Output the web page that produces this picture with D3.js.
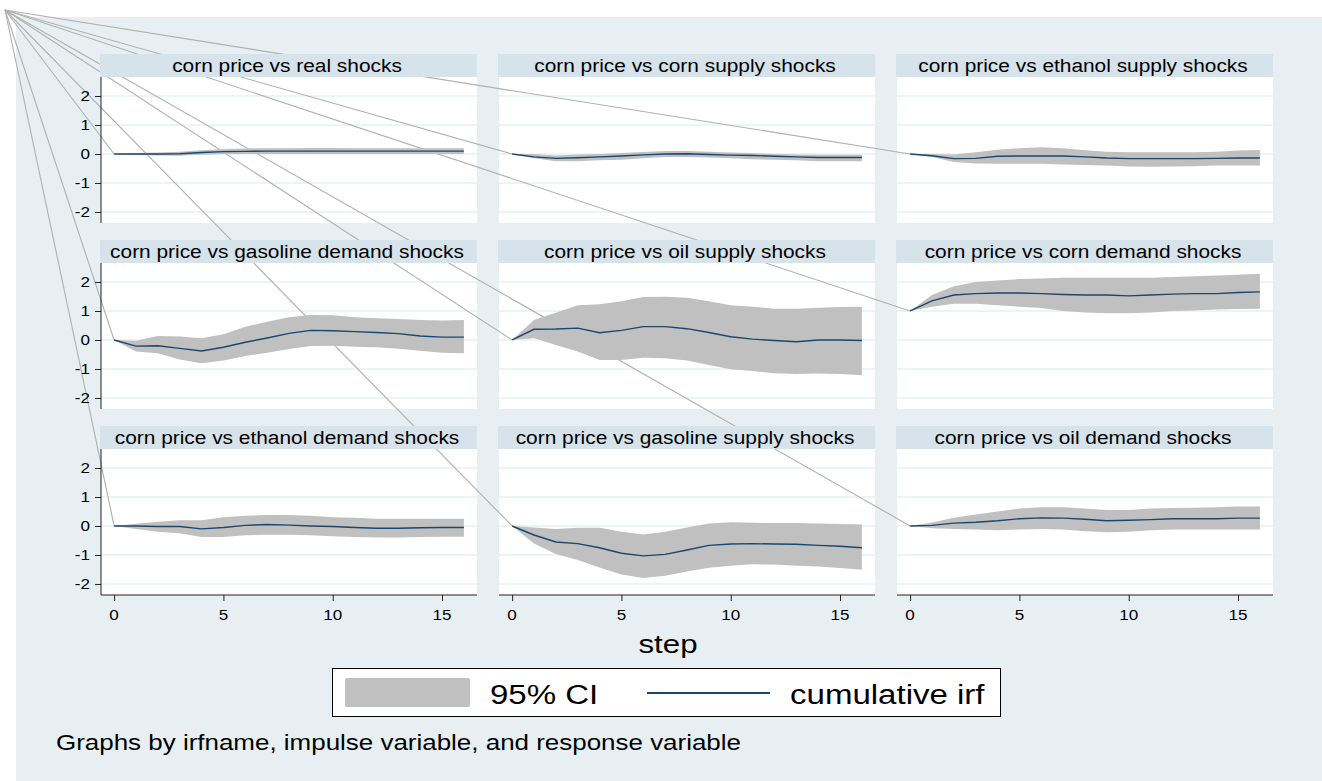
<!DOCTYPE html>
<html>
<head>
<meta charset="utf-8">
<script src="https://cdn.jsdelivr.net/npm/d3@7"></script>
<style>
  body { margin: 0; background: #fff; }
  svg { display: block; font-family: "Liberation Sans", Arial, Helvetica, sans-serif; }
</style>
</head>
<body>
<div id="chart"></div>
<script>
// steps of the impulse response
const steps = [0,1,2,3,4,5,6,7,8,9,10,11,12,13,14,15,16]

const titles = [
  "corn price vs real shocks",
  "corn price vs corn supply shocks",
  "corn price vs ethanol supply shocks",
  "corn price vs gasoline demand shocks",
  "corn price vs oil supply shocks",
  "corn price vs corn demand shocks",
  "corn price vs ethanol demand shocks",
  "corn price vs gasoline supply shocks",
  "corn price vs oil demand shocks"
]

// cumulative irf + 95% CI, one triple per panel
const irf_real = [0,0,0,0.01,0.05,0.08,0.09,0.1,0.1,0.1,0.1,0.1,0.1,0.1,0.1,0.1,0.1]
const lo_real  = [0,-0.03,-0.05,-0.06,-0.03,0,0,0,0,0,0,0,0,0,0,0,0]
const hi_real  = [0,0.03,0.05,0.08,0.13,0.17,0.19,0.2,0.2,0.21,0.21,0.2,0.2,0.2,0.2,0.2,0.2]

const irf_cornS = [0,-0.1,-0.15,-0.13,-0.1,-0.07,-0.03,0,0.01,-0.02,-0.04,-0.05,-0.08,-0.1,-0.12,-0.12,-0.12]
const lo_cornS  = [0,-0.15,-0.25,-0.25,-0.22,-0.2,-0.15,-0.1,-0.1,-0.12,-0.15,-0.18,-0.2,-0.22,-0.25,-0.25,-0.25]
const hi_cornS  = [0,0,-0.05,-0.02,0,0.03,0.07,0.1,0.1,0.08,0.05,0.03,0,-0.02,-0.03,-0.03,-0.03]

const irf_ethS = [0,-0.06,-0.16,-0.15,-0.08,-0.07,-0.07,-0.07,-0.1,-0.14,-0.16,-0.16,-0.16,-0.16,-0.15,-0.14,-0.14]
const lo_ethS  = [0,-0.1,-0.28,-0.33,-0.34,-0.34,-0.34,-0.36,-0.38,-0.4,-0.43,-0.44,-0.43,-0.42,-0.4,-0.4,-0.4]
const hi_ethS  = [0,0,-0.02,0.06,0.15,0.2,0.23,0.2,0.13,0.08,0.06,0.06,0.06,0.06,0.08,0.12,0.14]

const irf_gasD = [0,-0.21,-0.2,-0.29,-0.38,-0.25,-0.08,0.07,0.23,0.33,0.32,0.29,0.26,0.22,0.14,0.1,0.1]
const lo_gasD  = [0,-0.4,-0.46,-0.67,-0.8,-0.71,-0.55,-0.44,-0.31,-0.21,-0.2,-0.23,-0.25,-0.3,-0.37,-0.44,-0.46]
const hi_gasD  = [0,-0.03,0.14,0.12,0.06,0.2,0.46,0.63,0.78,0.86,0.85,0.78,0.75,0.72,0.69,0.67,0.69]

const irf_oilS = [0,0.37,0.38,0.41,0.25,0.33,0.46,0.46,0.39,0.26,0.11,0.03,-0.02,-0.06,0,0,-0.02]
const lo_oilS  = [0,0.06,-0.17,-0.4,-0.69,-0.69,-0.61,-0.63,-0.71,-0.86,-1.01,-1.07,-1.15,-1.17,-1.16,-1.17,-1.22]
const hi_oilS  = [0,0.69,0.94,1.2,1.23,1.34,1.48,1.49,1.46,1.34,1.2,1.15,1.08,1.08,1.11,1.14,1.15]

const irf_cornD = [1,1.35,1.55,1.6,1.62,1.62,1.6,1.57,1.55,1.55,1.52,1.55,1.58,1.6,1.6,1.64,1.66]
const lo_cornD  = [1,1.15,1.25,1.25,1.2,1.15,1.1,1.0,0.95,0.92,0.92,0.95,1.0,1.02,1.05,1.07,1.08]
const hi_cornD  = [1,1.55,1.85,2.0,2.05,2.1,2.12,2.15,2.15,2.15,2.15,2.15,2.17,2.2,2.22,2.25,2.28]

const irf_ethD = [0,0,-0.02,-0.02,-0.1,-0.05,0.02,0.05,0.03,0,-0.02,-0.05,-0.08,-0.08,-0.06,-0.05,-0.05]
const lo_ethD  = [0,-0.1,-0.2,-0.25,-0.38,-0.38,-0.32,-0.3,-0.3,-0.32,-0.35,-0.38,-0.4,-0.4,-0.38,-0.37,-0.37]
const hi_ethD  = [0,0.08,0.15,0.2,0.2,0.3,0.35,0.38,0.38,0.35,0.3,0.28,0.25,0.25,0.25,0.25,0.25]

const irf_gasS = [0,-0.31,-0.55,-0.61,-0.75,-0.94,-1.03,-0.98,-0.83,-0.67,-0.62,-0.61,-0.62,-0.63,-0.67,-0.7,-0.75]
const lo_gasS  = [0,-0.6,-0.97,-1.17,-1.43,-1.67,-1.79,-1.72,-1.57,-1.44,-1.37,-1.32,-1.33,-1.37,-1.4,-1.45,-1.51]
const hi_gasS  = [0,-0.05,-0.1,-0.06,-0.06,-0.2,-0.29,-0.2,-0.05,0.09,0.13,0.11,0.1,0.1,0.09,0.07,0.05]

const irf_oilD = [0,0.02,0.1,0.13,0.18,0.25,0.28,0.27,0.23,0.18,0.2,0.22,0.25,0.25,0.25,0.27,0.27]
const lo_oilD  = [0,-0.08,-0.1,-0.12,-0.15,-0.12,-0.1,-0.12,-0.18,-0.22,-0.2,-0.15,-0.12,-0.12,-0.12,-0.12,-0.12]
const hi_oilD  = [0,0.12,0.28,0.4,0.5,0.6,0.65,0.65,0.6,0.55,0.55,0.6,0.62,0.63,0.65,0.67,0.67]

const yTicks = [-2,-1,0,1,2]
const xTicks = [0,5,10,15]

const irfs = [irf_real, irf_cornS, irf_ethS, irf_gasD, irf_oilS, irf_cornD, irf_ethD, irf_gasS, irf_oilD]
const los  = [lo_real, lo_cornS, lo_ethS, lo_gasD, lo_oilS, lo_cornD, lo_ethD, lo_gasS, lo_oilD]
const his  = [hi_real, hi_cornS, hi_ethS, hi_gasD, hi_oilS, hi_cornD, hi_ethD, hi_gasS, hi_oilD]

const W = 1322, H = 781
const bg = "#e8eff2", strip = "#d7e3ea", grid = "#e9f1f3"
const ciColor = "#c0c0c0", navy = "#1a476f"

// panel geometry
const colX = [101, 499, 897]
const rowY = [54, 240, 426]   // top of title strip
const pw = 376, stripH = 23, ph = 146

const x = d3.scaleLinear().domain([-0.6, 16.6]).range([0, pw])
const y = d3.scaleLinear().domain([-2.38, 2.655]).range([ph, 0])

const svg = d3.select("#chart").append("svg")
  .attr("width", W)
  .attr("height", H)

// stretched text helper (original export is a bit wide)
function txt(g, tx, ty, s, size, sx, anchor) {
  return g.append("text")
    .attr("transform", "translate(" + tx + "," + ty + ") scale(" + sx + ",1)")
    .attr("text-anchor", anchor || "start")
    .attr("font-size", size)
    .attr("fill", "#000")
    .text(s)
}

svg.append("rect").attr("x", 16).attr("y", 17).attr("width", W - 16).attr("height", H - 17).attr("fill", bg)

const gPlot = svg.append("g")
const gOrigin = svg.append("g")
const gBand = svg.append("g")
const gLine = svg.append("g")
const gStrip = svg.append("g")
const gAxis = svg.append("g")

const area = d3.area().x((d, i) => x(steps[i])).y0(d => y(d[0])).y1(d => y(d[1]))
const line = d3.line().x((d, i) => x(steps[i])).y(d => y(d))

titles.forEach((t, k) => {
  const c = k % 3, r = Math.floor(k / 3)
  const ox = colX[c], oy = rowY[r] + stripH

  const p = gPlot.append("g").attr("transform", "translate(" + ox + "," + oy + ")")
  p.append("rect").attr("width", pw).attr("height", ph).attr("fill", "#fff")
  p.selectAll("line.grid").data(yTicks).enter().append("line")
    .attr("x1", 0).attr("x2", pw)
    .attr("y1", d => y(d)).attr("y2", d => y(d))
    .attr("stroke", grid).attr("stroke-width", 1.5)

  // stray connector from the page corner to the first point
  gOrigin.append("line")
    .attr("x1", 5).attr("y1", 10)
    .attr("x2", ox + x(steps[0])).attr("y2", oy + y(irfs[k][0]))
    .attr("stroke", "#b0b0b0").attr("stroke-width", 1.1)

  gBand.append("path")
    .attr("transform", "translate(" + ox + "," + oy + ")")
    .attr("d", area(los[k].map((v, i) => [v, his[k][i]])))
    .attr("fill", ciColor)

  gLine.append("path")
    .attr("transform", "translate(" + ox + "," + oy + ")")
    .attr("d", line(irfs[k]))
    .attr("fill", "none").attr("stroke", navy).attr("stroke-width", 1.4)

  gStrip.append("rect")
    .attr("x", ox - 1).attr("y", rowY[r]).attr("width", pw + 1).attr("height", stripH)
    .attr("fill", strip)
  txt(gStrip, ox + pw / 2 - 2, rowY[r] + 18, t, 18, 1.16, "middle")

  if (c === 0) {
    const ay = gAxis.append("g").attr("transform", "translate(" + ox + "," + oy + ")")
      .call(d3.axisLeft(y).tickValues(yTicks).tickSize(6).tickFormat(""))
    ay.select(".domain").attr("d", "M0,0V" + ph).attr("stroke", "#222")
    ay.selectAll(".tick line").attr("stroke", "#222")
    yTicks.forEach(v => txt(gAxis, ox - 11, oy + y(v) + 5, String(v), 14, 1.22, "end"))
  }
  if (r === 2) {
    const ax = gAxis.append("g").attr("transform", "translate(" + ox + "," + (oy + ph) + ")")
      .call(d3.axisBottom(x).tickValues(xTicks).tickSize(6).tickFormat(""))
    ax.select(".domain").attr("d", "M0,0H" + pw).attr("stroke", "#222")
    ax.selectAll(".tick line").attr("stroke", "#222")
    xTicks.forEach(v => txt(gAxis, ox + x(v), oy + ph + 25, String(v), 14, 1.22, "middle"))
  }
})

// x title
txt(svg, 668, 653, "step", 25, 1.25, "middle")

// legend
const lg = svg.append("g")
lg.append("rect").attr("x", 332.5).attr("y", 668.5).attr("width", 668).attr("height", 48)
  .attr("fill", "#fff").attr("stroke", "#000").attr("stroke-width", 1)
lg.append("rect").attr("x", 345).attr("y", 678).attr("width", 125).attr("height", 29).attr("rx", 2)
  .attr("fill", ciColor)
txt(lg, 490, 704, "95% CI", 28, 1.18)
lg.append("line").attr("x1", 647).attr("x2", 770).attr("y1", 693).attr("y2", 693)
  .attr("stroke", navy).attr("stroke-width", 2)
txt(lg, 790, 704, "cumulative irf", 28, 1.18)

// note
txt(svg, 56, 750, "Graphs by irfname, impulse variable, and response variable", 22, 1.18)
</script>
</body>
</html>
